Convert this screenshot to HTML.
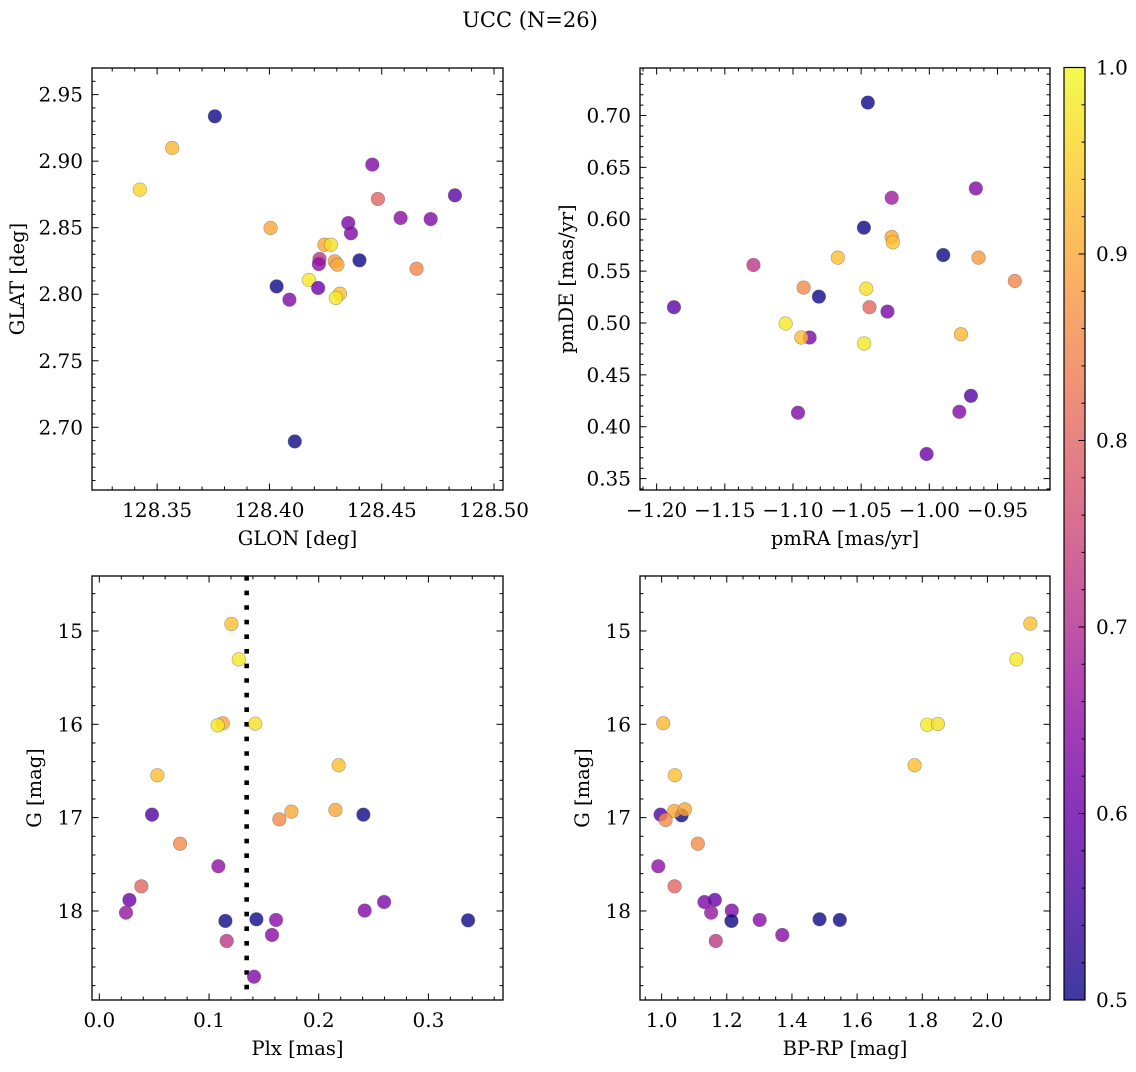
<!DOCTYPE html>
<html><head><meta charset="utf-8"><style>
html,body{margin:0;padding:0;background:#fff;}
svg text{font-family:"DejaVu Serif","Liberation Serif",serif;fill:#000;}
</style></head><body>
<svg id="fig" width="1136" height="1067" viewBox="0 0 1136 1067" xmlns="http://www.w3.org/2000/svg">
<defs>
<linearGradient id="cbgrad" x1="0" y1="1" x2="0" y2="0">
<stop offset="0" stop-color="#0d0887"/><stop offset="0.1" stop-color="#41049d"/><stop offset="0.2" stop-color="#6a00a8"/><stop offset="0.3" stop-color="#8f0da4"/><stop offset="0.4" stop-color="#b12a90"/><stop offset="0.5" stop-color="#cc4778"/><stop offset="0.6" stop-color="#e16462"/><stop offset="0.7" stop-color="#f2844b"/><stop offset="0.8" stop-color="#fca636"/><stop offset="0.9" stop-color="#fcce25"/><stop offset="1" stop-color="#f0f921"/>
</linearGradient>
</defs>
<text x="530" y="27" font-size="21" text-anchor="middle">UCC (N=26)</text>
</svg>
<script>
// ---- data ----
const glon = [128.3757,128.3567,128.3423,128.4005,128.4458,128.4483,128.4826,128.4584,128.4718,128.4351,128.4363,128.4245,128.4274,128.4223,128.4220,128.4291,128.4303,128.4401,128.4655,128.4032,128.4176,128.4217,128.4089,128.4314,128.4296,128.4113];
const glat = [2.9337,2.9099,2.8786,2.8498,2.8974,2.8716,2.8743,2.8573,2.8565,2.8535,2.8458,2.8372,2.8372,2.8265,2.8227,2.8247,2.8222,2.8255,2.8192,2.8059,2.8107,2.8047,2.7959,2.8004,2.7972,2.6894];
const probTL = [0.5,0.92,0.96,0.9,0.63,0.8,0.58,0.64,0.63,0.62,0.63,0.9,0.97,0.72,0.65,0.88,0.9,0.5,0.85,0.5,0.98,0.6,0.63,0.93,0.98,0.5];

const pmra = [-1.0451,-0.9659,-1.0276,-1.0480,-1.0276,-1.0268,-0.9898,-0.9639,-1.0671,-1.1290,-0.9373,-1.0922,-1.0463,-1.0810,-1.1873,-1.0439,-1.0307,-1.1054,-1.0878,-1.0939,-0.9768,-1.0478,-0.9695,-0.9780,-1.0963,-1.0020];
const pmde = [0.7125,0.6297,0.6207,0.5919,0.5829,0.5777,0.5655,0.5630,0.5630,0.5559,0.5405,0.5341,0.5331,0.5254,0.5152,0.5152,0.5110,0.4995,0.4860,0.4860,0.4892,0.4802,0.4298,0.4144,0.4135,0.3737];
const probTR = [0.5,0.63,0.67,0.5,0.9,0.93,0.5,0.88,0.93,0.72,0.85,0.86,0.97,0.5,0.58,0.8,0.62,0.98,0.62,0.93,0.92,0.98,0.57,0.63,0.63,0.6];

const plx = [0.1204,0.1271,0.1125,0.1079,0.1422,0.2182,0.0529,0.0480,0.1751,0.2152,0.1641,0.2407,0.0736,0.1085,0.0383,0.0274,0.0243,0.2596,0.2419,0.1149,0.1432,0.1611,0.3362,0.1574,0.1161,0.1410];
const gmagBL = [14.925,15.304,15.989,16.011,15.993,16.439,16.546,16.968,16.936,16.918,17.018,16.968,17.279,17.521,17.736,17.882,18.018,17.904,17.996,18.107,18.089,18.096,18.100,18.257,18.321,18.704];
const probBL = [0.93,0.98,0.9,0.98,0.97,0.93,0.93,0.57,0.9,0.9,0.86,0.5,0.86,0.65,0.8,0.6,0.66,0.62,0.63,0.5,0.5,0.64,0.5,0.64,0.72,0.63];
const plxLine = 0.1343;

const bprp = [2.1316,2.0888,1.0051,1.8153,1.8480,1.7765,1.0408,0.9969,1.0612,1.0388,1.0714,1.0122,1.1112,0.9898,1.0398,1.1316,1.1633,1.1520,1.2153,1.2143,1.3010,1.4847,1.5469,1.3704,1.1663];
const gmagBR = [14.921,15.304,15.989,16.004,15.996,16.439,16.546,16.968,16.975,16.929,16.911,17.025,17.279,17.521,17.736,17.904,17.882,18.018,17.996,18.107,18.096,18.089,18.096,18.257,18.321];
const probBR = [0.93,0.98,0.92,0.98,0.97,0.93,0.93,0.57,0.5,0.9,0.9,0.86,0.86,0.65,0.8,0.62,0.6,0.66,0.63,0.5,0.64,0.5,0.5,0.64,0.72];

const ticksTLx = ["128.35","128.40","128.45","128.50"];
const ticksTLy = ["2.70","2.75","2.80","2.85","2.90","2.95"];
const ticksTRx = ["\u22121.20","\u22121.15","\u22121.10","\u22121.05","\u22121.00","\u22120.95"];
const ticksTRy = ["0.35","0.40","0.45","0.50","0.55","0.60","0.65","0.70"];
const ticksBLx = ["0.0","0.1","0.2","0.3"];
const ticksGy = ["15","16","17","18"];
const ticksBRx = ["1.0","1.2","1.4","1.6","1.8","2.0"];
const ticksCb = ["0.5","0.6","0.7","0.8","0.9","1.0"];

// ---- helpers ----
const NS="http://www.w3.org/2000/svg";
const svg=document.getElementById('fig');
const TICK=20, LAB=19.5;
function mk(tag,attrs,parent){const e=document.createElementNS(NS,tag);for(const k in attrs)e.setAttribute(k,attrs[k]);(parent||svg).appendChild(e);return e;}
function txt(parent,x,y,size,anchor,str,rot){const t=mk('text',{x:0,y:0,'font-size':size,'text-anchor':anchor,transform:'translate('+x+','+y+')'+(rot?' rotate(-90)':'')},parent);t.textContent=str;return t;}
const stops=[[13,8,135],[65,4,157],[106,0,168],[143,13,164],[177,42,144],[204,71,120],[225,100,98],[242,132,75],[252,166,54],[252,206,37],[240,249,33]];
function plasma(p){let t=(p-0.5)/0.5;t=Math.max(0,Math.min(1,t))*10;const i=Math.min(9,Math.floor(t)),f=t-i;const a=stops[i],b=stops[i+1];return 'rgb('+[0,1,2].map(k=>Math.round(a[k]+(b[k]-a[k])*f)).join(',')+')';}

function panel(cfg){
  const g=mk('g',{});
  
  
  const L=cfg.box[0],T=cfg.box[1],R=cfg.box[2],B=cfg.box[3];
  const sx=v=>L+(v-cfg.xr[0])/(cfg.xr[1]-cfg.xr[0])*(R-L);
  const sy=cfg.inv? (v=>T+(v-cfg.yr[0])/(cfg.yr[1]-cfg.yr[0])*(B-T)) : (v=>B-(v-cfg.yr[0])/(cfg.yr[1]-cfg.yr[0])*(B-T));
  const clip='clip-'+cfg.name;
  const cp=mk('clipPath',{id:clip},g);mk('rect',{x:L,y:T,width:R-L,height:B-T},cp);
  const pg=mk('g',{'clip-path':'url(#'+clip+')'},g);
  
  
  if(cfg.vline!==undefined){const l=mk('line',{x1:sx(cfg.vline),x2:sx(cfg.vline),y1:T,y2:B,stroke:'#000','stroke-width':4.6,'stroke-dasharray':'4.6 10'},pg);
    
    }
  for(let i=0;i<cfg.xs.length;i++){
    const c=mk('circle',{cx:sx(cfg.xs[i]),cy:sy(cfg.ys[i]),r:6.8,fill:plasma(cfg.ps[i]),'fill-opacity':0.8,stroke:'#555','stroke-opacity':0.5,'stroke-width':0.6},pg);
    
    
  }
  mk('rect',{x:L,y:T,width:R-L,height:B-T,fill:'none',stroke:'#000','stroke-width':1.3},g);
  const xMaj=cfg.xt.map(s=>parseFloat(s.replace('\u2212','-')));
  for(let v=cfg.xminor[0];v<=cfg.xr[1]+1e-9;v+=cfg.xminor[1]){const x=sx(v);if(x<L-0.5||x>R+0.5)continue;
    const maj=xMaj.some(m=>Math.abs(m-v)<1e-6);const len=maj?6.5:3.5;
    mk('line',{x1:x,x2:x,y1:B,y2:B-len,stroke:'#000','stroke-width':1},g);mk('line',{x1:x,x2:x,y1:T,y2:T+len,stroke:'#000','stroke-width':1},g);}
  cfg.xt.forEach((s,i)=>{const t=txt(g,sx(xMaj[i]),B+27,TICK,'middle',s);
    
    });
  const yMaj=cfg.yt.map(s=>parseFloat(s));
  for(let v=cfg.yminor[0];v<=Math.max(cfg.yr[0],cfg.yr[1])+1e-9;v+=cfg.yminor[1]){const y=sy(v);if(y<T-0.5||y>B+0.5)continue;
    const maj=yMaj.some(m=>Math.abs(m-v)<1e-6);const len=maj?6.5:3.5;
    mk('line',{x1:L,x2:L+len,y1:y,y2:y,stroke:'#000','stroke-width':1},g);mk('line',{x1:R,x2:R-len,y1:y,y2:y,stroke:'#000','stroke-width':1},g);}
  cfg.yt.forEach((s,i)=>{const y=sy(yMaj[i]);if(y<T-1||y>B+1)return;const t=txt(g,L-9,y+7,TICK,'end',s);
    
    });
  const xl=txt(g,(L+R)/2,B+55,LAB,'middle',cfg.xlabel);
  
  
  const yl=txt(g,cfg.ylx,(T+B)/2,LAB,'middle',cfg.ylabel,true);
  
  
}

panel({name:'glon-glat-panel',box:[92,68,503,490],xr:[128.321,128.504],yr:[2.6529,2.970],xs:glon,ys:glat,ps:probTL,xt:ticksTLx,yt:ticksTLy,xminor:[128.33,0.01],yminor:[2.66,0.01],xlabel:'GLON [deg]',ylabel:'GLAT [deg]',ylx:24});
panel({name:'proper-motion-panel',box:[640,68,1050,490],xr:[-1.2122,-0.9115],yr:[0.339,0.7458],xs:pmra,ys:pmde,ps:probTR,xt:ticksTRx,yt:ticksTRy,xminor:[-1.21,0.01],yminor:[0.34,0.01],xlabel:'pmRA [mas/yr]',ylabel:'pmDE [mas/yr]',ylx:573});
panel({name:'plx-g-panel',box:[92,576,503,1000],xr:[-0.0067,0.368],yr:[14.411,18.954],inv:true,xs:plx,ys:gmagBL,ps:probBL,xt:ticksBLx,yt:ticksGy,xminor:[0,0.02],yminor:[14.6,0.2],xlabel:'Plx [mas]',ylabel:'G [mag]',ylx:41,vline:plxLine});
panel({name:'cmd-panel',box:[640,576,1050,1000],xr:[0.9337,2.192],yr:[14.411,18.954],inv:true,xs:bprp,ys:gmagBR,ps:probBR,xt:ticksBRx,yt:ticksGy,xminor:[0.95,0.05],yminor:[14.6,0.2],xlabel:'BP-RP [mag]',ylabel:'G [mag]',ylx:589});

// colorbar
const cb=mk('g',{});


const cT=67.5,cB=1000,cL=1064,cR=1085;
mk('rect',{x:cL,y:cT,width:cR-cL,height:cB-cT,fill:'url(#cbgrad)','fill-opacity':0.8},cb);
mk('rect',{x:cL,y:cT,width:cR-cL,height:cB-cT,fill:'none',stroke:'#000','stroke-width':1.2},cb);
const cy=v=>cB-(v-0.5)/0.5*(cB-cT);
for(let k=0;k<=25;k++){const v=0.5+k*0.02;const maj=(k%5===0);mk('line',{x1:cR,x2:cR-(maj?6.5:3.5),y1:cy(v),y2:cy(v),stroke:'#000','stroke-width':1},cb);}
ticksCb.forEach(s=>{const t=txt(cb,cR+11,cy(parseFloat(s))+7,TICK,'start',s);
  
  });
</script>
</body></html>
